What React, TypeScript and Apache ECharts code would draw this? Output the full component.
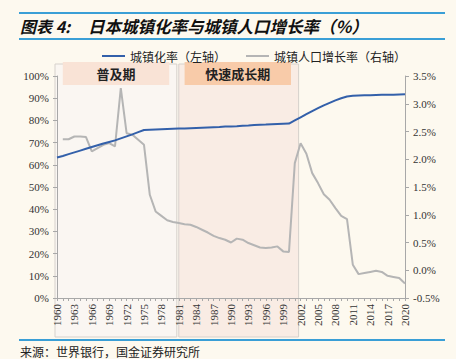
import React, { useEffect, useRef } from "react";
import * as echarts from "echarts";

const years = [
  "1960","1961","1962","1963","1964","1965","1966","1967","1968","1969",
  "1970","1971","1972","1973","1974","1975","1976","1977","1978","1979",
  "1980","1981","1982","1983","1984","1985","1986","1987","1988","1989",
  "1990","1991","1992","1993","1994","1995","1996","1997","1998","1999",
  "2000","2001","2002","2003","2004","2005","2006","2007","2008","2009",
  "2010","2011","2012","2013","2014","2015","2016","2017","2018","2019","2020",
];

// 城镇化率 (%), left axis
const urbanRate = [
  63.3, 64.0, 64.8, 65.6, 66.4, 67.2, 68.0, 68.8, 69.6, 70.3,
  71.0, 71.9, 72.8, 73.7, 74.7, 75.7, 75.8, 75.9, 76.0, 76.1,
  76.2, 76.3, 76.4, 76.5, 76.6, 76.7, 76.8, 76.9, 77.0, 77.2,
  77.3, 77.4, 77.6, 77.7, 77.9, 78.0, 78.1, 78.3, 78.4, 78.5,
  78.6, 80.0, 81.4, 82.8, 84.2, 85.5, 86.8, 87.9, 89.0, 90.0,
  90.8, 91.1, 91.2, 91.3, 91.3, 91.4, 91.5, 91.6, 91.6, 91.7, 91.8,
];

// 城镇人口增长率 (%), right axis
const urbanGrowth = [
  null, 2.36, 2.36, 2.41, 2.41, 2.40, 2.14, 2.20, 2.26, 2.29,
  2.23, 3.28, 2.47, 2.44, 2.35, 2.26, 1.36, 1.06, 0.98, 0.90,
  0.87, 0.85, 0.83, 0.82, 0.78, 0.73, 0.68, 0.62, 0.58, 0.55,
  0.50, 0.57, 0.55, 0.49, 0.45, 0.41, 0.40, 0.41, 0.43, 0.34,
  0.33, 1.93, 2.29, 2.10, 1.75, 1.57, 1.37, 1.27, 1.12, 0.98,
  0.92, 0.10, -0.07, -0.05, -0.03, -0.01, -0.03, -0.10, -0.12, -0.14, -0.24,
];

const phases = [
  { name: "普及期", start: "1960", end: "1981", boxStart: "1961", boxEnd: "1979" },
  { name: "快速成长期", start: "1981", end: "2002", boxStart: "1982", boxEnd: "2000" },
];

const titlePrefix = "图表 4:";
const titleMain = "日本城镇化率与城镇人口增长率（%）";
const source = "来源：世界银行，国金证券研究所";
const seriesNames = ["城镇化率（左轴）", "城镇人口增长率（右轴）"];

const BG = "#fdf9ef";
const AXIS = "#a8a8a8";
const RULE = "#3a9fd6";
const SERIF = "'Liberation Serif', 'Times New Roman', serif";
const CJK = "'Noto Sans CJK SC', sans-serif";

export default function App() {
  const ref = useRef<HTMLDivElement>(null);
  useEffect(() => {
    if (!ref.current) return;
    const chart = echarts.init(ref.current, null, { renderer: "svg" });
    chart.setOption({
      animation: false,
      backgroundColor: BG,
      grid: { left: 57, right: 51, top: 76, bottom: 61, containLabel: false },
      legend: {
        left: 97,
        top: 45,
        icon: "rect",
        itemWidth: 23,
        itemHeight: 2,
        itemGap: 20,
        textStyle: { fontFamily: CJK, fontSize: 12, color: "#222" },
        data: seriesNames,
      },
      xAxis: {
        type: "category",
        data: years,
        boundaryGap: false,
        axisLine: { lineStyle: { color: AXIS } },
        axisTick: { interval: 0, length: 3, lineStyle: { color: AXIS } },
        axisLabel: {
          interval: 2,
          rotate: 90,
          fontFamily: SERIF,
          fontSize: 11,
          color: "#333",
          margin: 6,
        },
      },
      yAxis: [
        {
          type: "value",
          min: 0,
          max: 100,
          interval: 10,
          splitLine: { show: false },
          axisLine: { show: true, lineStyle: { color: AXIS } },
          axisTick: { show: true, length: 4, lineStyle: { color: AXIS } },
          axisLabel: {
            formatter: (v: number) => v + "%",
            fontFamily: SERIF,
            fontSize: 11,
            color: "#333",
            margin: 8,
          },
        },
        {
          type: "value",
          min: -0.5,
          max: 3.5,
          interval: 0.5,
          position: "right",
          splitLine: { show: false },
          axisLine: { show: true, lineStyle: { color: AXIS } },
          axisTick: { show: true, length: 4, lineStyle: { color: AXIS } },
          axisLabel: {
            formatter: (v: number) => v.toFixed(1) + "%",
            fontFamily: SERIF,
            fontSize: 11,
            color: "#333",
            margin: 8,
          },
        },
      ],
      series: [
        {
          name: seriesNames[0],
          type: "line",
          data: urbanRate,
          yAxisIndex: 0,
          symbol: "none",
          lineStyle: { color: "#3360aa", width: 2 },
          itemStyle: { color: "#3360aa" },
          z: 4,
        },
        {
          name: seriesNames[1],
          type: "line",
          data: urbanGrowth,
          yAxisIndex: 1,
          symbol: "none",
          lineStyle: { color: "#b5b5b5", width: 2 },
          itemStyle: { color: "#b5b5b5" },
          z: 3,
        },
      ],
    });

    const px = (c: string) => chart.convertToPixel({ xAxisIndex: 0 }, c) as number;
    const py = (v: number) => chart.convertToPixel({ yAxisIndex: 0 }, v) as number;
    const top = py(100);
    const bottom = py(0);
    const fills = ["#faf6f2", "#f9ece4"];
    const boxFills = ["#f9e3d6", "#f8cba9"];
    const graphics: any[] = [];
    phases.forEach((p, i) => {
      const x0 = px(p.start) - (i === 0 ? 2 : 0);
      const x1 = px(p.end) - 2;
      graphics.push({
        type: "rect",
        z: -10,
        shape: { x: x0, y: top - 12, width: x1 - x0, height: bottom - top + 51 },
        style: { fill: fills[i], stroke: "#d6d1cc", lineWidth: 1 },
        silent: true,
      });
      const bx0 = px(p.boxStart);
      const bx1 = px(p.boxEnd) + 2;
      graphics.push({
        type: "rect",
        z: -5,
        shape: { x: bx0, y: top - 14, width: bx1 - bx0, height: 23 },
        style: { fill: boxFills[i] },
        silent: true,
      });
      graphics.push({
        type: "text",
        z: 10,
        x: (bx0 + bx1) / 2,
        y: top - 2.5,
        style: {
          text: p.name,
          fill: "#222",
          font: `bold 13px ${CJK}`,
          align: "center",
          verticalAlign: "middle",
        },
        silent: true,
      });
    });
    graphics.push(
      { type: "rect", z: 100, left: 19, top: 12, shape: { width: 426, height: 2 }, style: { fill: RULE } },
      { type: "rect", z: 100, left: 19, top: 38, shape: { width: 426, height: 2 }, style: { fill: RULE } },
      { type: "rect", z: 100, left: 19, top: 339, shape: { width: 426, height: 2 }, style: { fill: RULE } },
      {
        type: "text",
        z: 20,
        x: 20,
        y: 26,
        style: {
          text: titlePrefix,
          fill: "#111",
          font: `italic bold 16px ${CJK}`,
          verticalAlign: "middle",
        },
      },
      {
        type: "text",
        z: 20,
        x: 88,
        y: 26,
        style: {
          text: titleMain,
          fill: "#111",
          font: `italic bold 16.5px ${CJK}`,
          verticalAlign: "middle",
        },
      },
      {
        type: "text",
        z: 20,
        x: 20,
        y: 351,
        style: {
          text: source,
          fill: "#222",
          font: `12px ${CJK}`,
          verticalAlign: "middle",
        },
      }
    );
    chart.setOption({ graphic: graphics });
    return () => chart.dispose();
  }, []);
  return (
    <div
      ref={ref}
      style={{ position: "fixed", left: 0, top: 0, width: 456, height: 359 }}
    />
  );
}
